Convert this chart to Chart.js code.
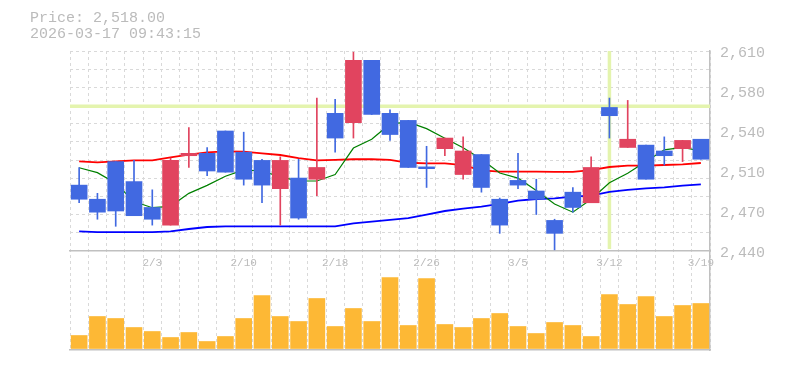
<!DOCTYPE html>
<html>
<head>
<meta charset="utf-8">
<script src="https://cdn.jsdelivr.net/npm/chart.js@4.4.1/dist/chart.umd.min.js"></script>
<style>
  html, body { margin: 0; padding: 0; background: #ffffff; }
</style>
</head>
<body>
<canvas id="myChart" width="785" height="370"></canvas>
<script>
var dates = ["1/28", "1/29", "1/30", "2/2", "2/3", "2/4", "2/5", "2/6", "2/9", "2/10",
             "2/12", "2/13", "2/16", "2/17", "2/18", "2/19", "2/20", "2/24", "2/25", "2/26",
             "2/27", "3/2", "3/3", "3/4", "3/5", "3/6", "3/9", "3/10", "3/11", "3/12",
             "3/13", "3/16", "3/17", "3/18", "3/19"];
var shownDates = ["2/3", "2/10", "2/18", "2/26", "3/5", "3/12", "3/19"];

var opens  = [2496, 2484, 2516, 2499, 2477, 2462, 2521, 2523, 2542, 2524, 2517, 2493, 2502, 2501, 2557, 2549, 2602, 2557, 2551, 2511.5,
              2527, 2505, 2522, 2484, 2500, 2491, 2466, 2490, 2481, 2562, 2528, 2530, 2525, 2527, 2535];
var highs  = [2511, 2489, 2516, 2517, 2492, 2519, 2545, 2528, 2542, 2541, 2518, 2520, 2518, 2570, 2569, 2609, 2602, 2560, 2551, 2529,
              2536, 2537, 2522, 2485, 2523, 2501, 2467, 2494, 2520, 2570, 2568, 2530, 2537, 2534, 2535];
var lows   = [2481, 2467, 2461, 2470, 2462, 2462, 2511, 2504, 2507, 2496, 2481, 2462, 2467, 2487, 2524, 2536, 2556, 2534, 2511, 2494,
              2521, 2501, 2490, 2455, 2493, 2471, 2441, 2473, 2481, 2536, 2528, 2501, 2513, 2516, 2518];
var closes = [2484, 2473, 2474, 2470, 2467, 2517, 2523, 2508, 2507, 2501, 2496, 2517, 2468, 2511, 2536, 2602, 2556, 2539, 2511, 2510,
              2536, 2525, 2494, 2462, 2496, 2484, 2455, 2477, 2511, 2555, 2535, 2501, 2521, 2534, 2518];
var volumes = [130000, 320000, 300000, 210000, 170000, 110000, 160000, 70000, 120000, 300000,
               530000, 320000, 270000, 500000, 220000, 400000, 270000, 710000, 230000, 700000,
               240000, 210000, 300000, 350000, 220000, 150000, 260000, 230000, 120000, 540000,
               440000, 520000, 320000, 430000, 450000];

// moving averages (short / middle / long)
var maShort = [2510.8, 2506.6, 2497.5, 2482, 2476.8, 2478, 2489, 2495.8, 2503.5, 2509, 2508, 2503, 2499.5, 2499.5, 2505,
               2527.5, 2535, 2548, 2549.5, 2544, 2535.8, 2527.8, 2518, 2506.3, 2502, 2491.5, 2480, 2473, 2484, 2498,
               2506, 2516, 2526, 2528, 2525];
var maMid   = [2516.2, 2515.4, 2516.2, 2517.1, 2517.1, 2519.6, 2521.9, 2523.9, 2524.7, 2524.4, 2523, 2521.6, 2519, 2517,
               2517.5, 2518, 2518, 2517.4, 2515, 2514.5, 2514.5, 2513, 2508.5, 2507.4, 2507.4, 2507.4, 2507.2, 2507.2,
               2508.8, 2511.4, 2512.5, 2512.5, 2513.1, 2513.7, 2514.8];
var maLong  = [2456.7, 2456, 2456, 2456, 2456, 2456.7, 2458.7, 2460.4, 2461, 2461, 2461, 2461, 2461, 2461, 2461,
               2463.5, 2465, 2466.4, 2468, 2471, 2474, 2476, 2477.7, 2480, 2482.8, 2484.2, 2484.8, 2486.2, 2487,
               2490.2, 2491.9, 2493.3, 2494.1, 2495.5, 2496.7];

var priceTicks = [2440, 2474, 2508, 2542, 2576, 2610];
var priceTickLabels = ["2,440", "2,470", "2,510", "2,540", "2,580", "2,610"];
var lastPrice = "2,518.00";
var stamp = "2026-03-17 09:43:15";
var cursorIndex = 29;
var cursorPrice = 2563;

var upColor = "#e1445f";
var downColor = "#4169e1";
var textColor = "#bbbbbb";
var gridColor = "#d9d9d9";
var lineColor = "#c0c0c0";
var monoFont = "'Liberation Mono', 'DejaVu Sans Mono', monospace";

var candleColors = [];
for (var i = 0; i < opens.length; i++) {
    candleColors.push(closes[i] >= opens[i] ? upColor : downColor);
}

var bodies = opens.map(function(o, i) { return [o, closes[i]]; });
var wicks = lows.map(function(l, i) { return [l, highs[i]]; });

// dashed 18px grid across the price panel
var gridSteps = [];
for (var k = 0; k <= 11; k++) {
    gridSteps.push(2610 - k * 170 / 11);
}

var crosshair = {
    id: "crosshair",
    beforeDatasetsDraw: function(chart) {
        var c = chart.ctx;
        var area = chart.chartArea;
        var x = chart.scales.x.getPixelForValue(cursorIndex);
        var y = chart.scales.yPrice.getPixelForValue(cursorPrice);
        var yBottom = chart.scales.yPrice.getPixelForValue(2440);
        c.save();
        c.strokeStyle = "#e4f4ae";
        c.lineWidth = 3.5;
        c.beginPath();
        c.moveTo(area.left, y);
        c.lineTo(area.right, y);
        c.moveTo(x, area.top);
        c.lineTo(x, yBottom - 2);
        c.stroke();
        c.restore();
    }
};

var ctx = document.getElementById("myChart").getContext("2d");

var myChart = new Chart(ctx, {
    type: "bar",
    data: {
        labels: dates,
        datasets: [
            {
                label: "body",
                data: bodies,
                backgroundColor: candleColors,
                borderWidth: 0,
                barThickness: 16,
                grouped: false,
                yAxisID: "yPrice",
                order: 0
            },
            {
                label: "wick",
                data: wicks,
                backgroundColor: candleColors,
                borderWidth: 0,
                barThickness: 1,
                grouped: false,
                yAxisID: "yPrice",
                order: 1
            },
            {
                type: "line",
                label: "MA short",
                data: maShort,
                borderColor: "#008000",
                borderWidth: 1.2,
                pointRadius: 0,
                tension: 0,
                yAxisID: "yPrice",
                order: 2
            },
            {
                type: "line",
                label: "MA mid",
                data: maMid,
                borderColor: "#ff0000",
                borderWidth: 1.8,
                pointRadius: 0,
                tension: 0,
                yAxisID: "yPrice",
                order: 3
            },
            {
                type: "line",
                label: "MA long",
                data: maLong,
                borderColor: "#0000ff",
                borderWidth: 1.8,
                pointRadius: 0,
                tension: 0,
                yAxisID: "yPrice",
                order: 4
            },
            {
                label: "volume",
                data: volumes,
                backgroundColor: "#fdb835",
                borderWidth: 0,
                barThickness: 16,
                grouped: false,
                yAxisID: "yVol",
                order: 5
            }
        ]
    },
    plugins: [crosshair],
    options: {
        responsive: false,
        animation: false,
        devicePixelRatio: 1,
        layout: { padding: { left: 30, right: 0, top: 0, bottom: 20 } },
        plugins: {
            legend: { display: false },
            tooltip: { enabled: false },
            title: {
                display: true,
                text: ["Price: " + lastPrice, stamp],
                align: "start",
                color: textColor,
                font: { family: monoFont, size: 15, weight: "normal", lineHeight: 16 / 15 },
                padding: { top: 10, bottom: 9 }
            }
        },
        scales: {
            x: {
                type: "category",
                position: { yPrice: 2440 },
                offset: true,
                grid: { display: true, offset: true, color: gridColor, lineWidth: 1, drawTicks: false },
                border: { display: true, color: lineColor, width: 1.5, dash: [3, 3] },
                ticks: {
                    autoSkip: false,
                    maxRotation: 0,
                    minRotation: 0,
                    padding: 5,
                    color: textColor,
                    font: { family: monoFont, size: 11 },
                    callback: function(value, index) {
                        var d = dates[index];
                        return shownDates.indexOf(d) >= 0 ? d : "";
                    }
                }
            },
            xb: {
                type: "category",
                position: "bottom",
                offset: true,
                grid: { display: false, drawTicks: false },
                border: { display: true, color: lineColor, width: 1.5 },
                ticks: { display: false }
            },
            yPrice: {
                type: "linear",
                position: "right",
                min: 2355.85,
                max: 2610,
                afterBuildTicks: function(scale) {
                    scale.ticks = priceTicks.map(function(v) { return { value: v }; });
                },
                afterFit: function(scale) { scale.width = 75; },
                grid: { display: false, drawTicks: false },
                border: { display: true, color: lineColor, width: 1.5 },
                ticks: {
                    padding: 10,
                    labelOffset: 2,
                    color: textColor,
                    font: { family: monoFont, size: 15 },
                    callback: function(value, index) { return priceTickLabels[index]; }
                }
            },
            yGrid: {
                type: "linear",
                position: "left",
                min: 2355.85,
                max: 2610,
                afterBuildTicks: function(scale) {
                    scale.ticks = gridSteps.map(function(v) { return { value: v }; });
                },
                afterFit: function(scale) { scale.width = 40; },
                grid: { display: true, color: gridColor, lineWidth: 1, drawTicks: false },
                border: { display: false, dash: [3, 3] },
                ticks: { display: false }
            },
            yVol: {
                type: "linear",
                display: false,
                min: -15000,
                max: 2975000
            }
        }
    }
});
</script>
</body>
</html>
